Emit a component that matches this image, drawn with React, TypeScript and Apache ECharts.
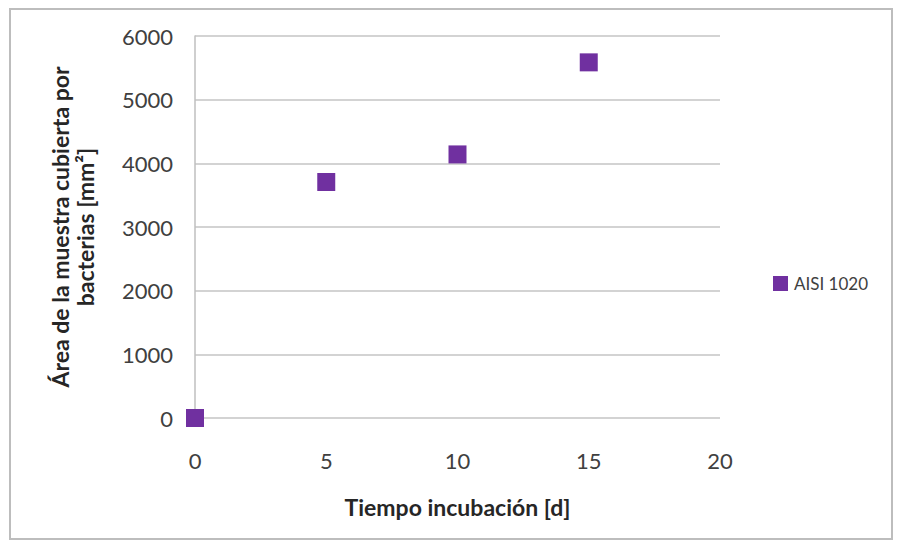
import React, { useEffect, useRef } from "react";
import * as echarts from "echarts";

const seriesName = "AISI 1020";
const days = [0, 5, 10, 15];
const area = [0, 3707, 4140, 5586];
const xTitle = "Tiempo incubación [d]";
const yTitle = "Área de la muestra cubierta por\nbacterias [mm²]";

const FONT = "Lato, 'Open Sans', sans-serif";

export default function App() {
  const ref = useRef<HTMLDivElement>(null);
  useEffect(() => {
    if (!ref.current) return;
    const chart = echarts.init(ref.current, undefined, { renderer: "svg" });
    chart.setOption({
      animation: false,
      backgroundColor: "#ffffff",
      textStyle: { fontFamily: FONT },
      graphic: [
        {
          type: "rect",
          shape: { x: 10, y: 9, width: 882, height: 530 },
          style: { fill: "none", stroke: "#bdbdbd", lineWidth: 2 },
          silent: true,
        },
      ],
      grid: { left: 195, right: 181, top: 36, bottom: 130 },
      legend: {
        show: true,
        left: 768,
        top: 270,
        orient: "vertical",
        icon: "rect",
        itemWidth: 15,
        itemHeight: 15,
        itemGap: 6,
        textStyle: { fontFamily: FONT, fontSize: 17, color: "#404040", padding: [0, 0, 0, 1] },
        data: [seriesName],
      },
      xAxis: {
        type: "value",
        min: 0,
        max: 20,
        interval: 5,
        name: xTitle,
        nameLocation: "middle",
        nameGap: 77,
        nameTextStyle: { fontFamily: FONT, fontSize: 23, fontWeight: "bold", color: "#262626" },
        axisLine: { show: false },
        axisTick: { show: false },
        splitLine: { show: false },
        axisLabel: { margin: 31, fontSize: 22, color: "#404040", fontFamily: FONT, formatter: (v: number) => String(v) },
      },
      yAxis: {
        type: "value",
        min: 0,
        max: 6000,
        interval: 1000,
        name: yTitle,
        nameLocation: "middle",
        nameRotate: 90,
        nameGap: 98,
        nameTextStyle: { fontFamily: FONT, fontSize: 23, fontWeight: "bold", color: "#262626", lineHeight: 25 },
        axisLine: { show: true, lineStyle: { color: "#bfbfbf", width: 1.5 } },
        axisTick: { show: false },
        splitLine: { show: true, lineStyle: { color: "#c4c4c4", width: 1.5 } },
        axisLabel: { margin: 22, fontSize: 22, color: "#404040", fontFamily: FONT, formatter: (v: number) => String(v) },
      },
      series: [
        {
          name: seriesName,
          type: "scatter",
          symbol: "rect",
          symbolSize: 18,
          itemStyle: { color: "#7030A0", opacity: 1 },
          data: days.map((d, i) => [d, area[i]]),
        },
      ],
    });
    return () => chart.dispose();
  }, []);
  return (
    <div
      ref={ref}
      style={{ position: "absolute", left: 0, top: 0, width: 901, height: 548 }}
    />
  );
}
